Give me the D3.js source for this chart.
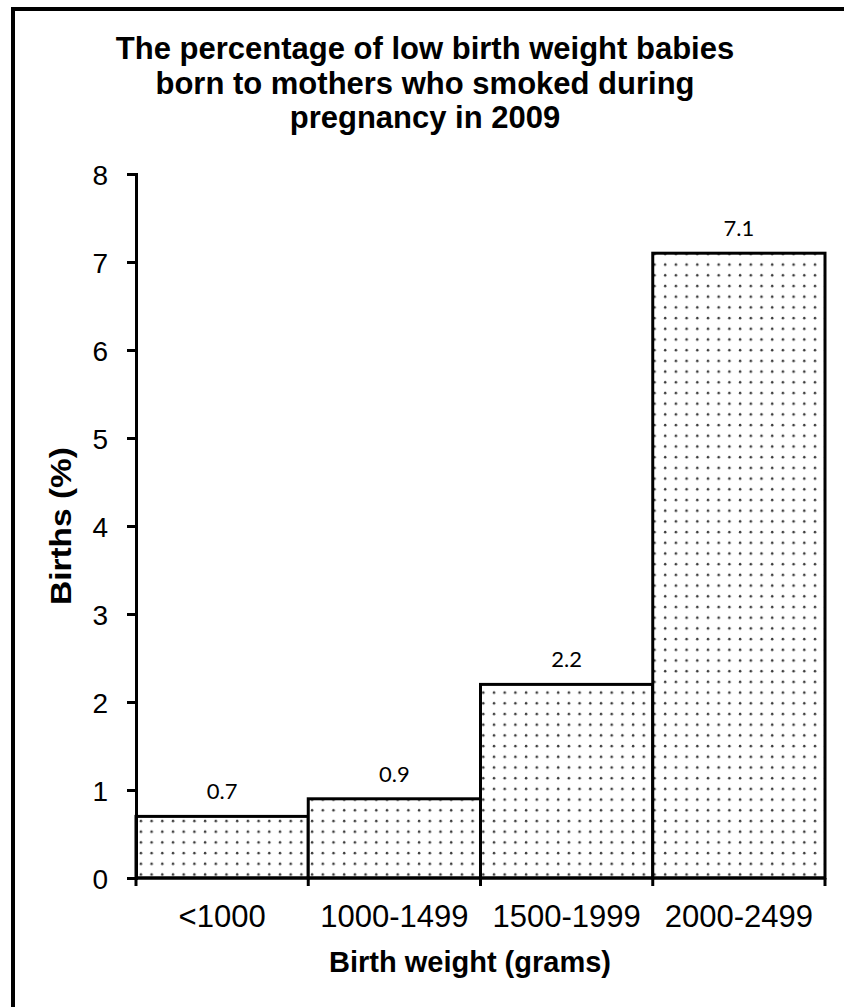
<!DOCTYPE html>
<html lang="en">
<head>
<meta charset="UTF-8">
<script src="https://d3js.org/d3.v7.min.js"></script>
<style>
  body { margin: 0; background: #fff; }
  svg text { font-family: "Liberation Sans", Arial, sans-serif; fill: #000; }
  .title { font-size: 31px; font-weight: bold; }
  .tick text { font-size: 28px; }
  .xlab { font-size: 31px; }
  .axisTitle { font-size: 29px; font-weight: bold; }
  .val { font-family: Lato, "Open Sans", sans-serif; font-size: 22px; }
</style>
</head>
<body>
<div id="chart"></div>
<script>
  // data
  let categories = ["<1000", "1000-1499", "1500-1999", "2000-2499"];
  let births = [0.7, 0.9, 2.2, 7.1];
  let yTicks = [0, 1, 2, 3, 4, 5, 6, 7, 8];
  let titleLines = ["The percentage of low birth weight babies",
                    "born to mothers who smoked during",
                    "pregnancy in 2009"];

  let width = 844, height = 1007;
  let margin = {top: 174, right: 19, bottom: 129, left: 136};
  let chartWidth = width - margin.left - margin.right,
      chartHeight = height - margin.top - margin.bottom;

  let svg = d3.select("#chart").append("svg")
      .attr("width", width).attr("height", height);

  // dotted fill
  let pat = svg.append("defs").append("pattern")
      .attr("id", "dots")
      .attr("patternUnits", "userSpaceOnUse")
      .attr("width", 10.7).attr("height", 10.7)
      .attr("x", margin.left + 3).attr("y", 0);
  pat.append("rect").attr("width", 10.7).attr("height", 10.7).attr("fill", "#fff");
  pat.append("circle").attr("cx", 5).attr("cy", 5).attr("r", 1.25).attr("fill", "#3a3a3a");

  // outer frame (only left and top edges show)
  svg.append("rect")
      .attr("x", 13).attr("y", 9)
      .attr("width", 900).attr("height", 1100)
      .attr("fill", "none").attr("stroke", "#000").attr("stroke-width", 4);

  // title
  svg.append("g").selectAll("text")
      .data(titleLines)
      .join("text")
      .attr("class", "title")
      .attr("x", 425)
      .attr("y", (d, i) => 59 + i * 34.5)
      .attr("text-anchor", "middle")
      .text(d => d);

  let g = svg.append("g")
      .attr("transform", "translate(" + margin.left + "," + margin.top + ")");

  let x = d3.scaleBand().domain(categories).range([0, chartWidth]).padding(0);
  let y = d3.scaleLinear().domain([0, 8]).range([chartHeight, 0]);

  // bars
  g.selectAll(".bar")
      .data(births)
      .join("rect")
      .attr("class", "bar")
      .attr("x", (d, i) => x(categories[i]))
      .attr("y", d => y(d))
      .attr("width", x.bandwidth())
      .attr("height", d => chartHeight - y(d))
      .attr("fill", "url(#dots)")
      .attr("stroke", "#000")
      .attr("stroke-width", 3);

  // value labels
  g.selectAll(".val")
      .data(births)
      .join("text")
      .attr("class", "val")
      .attr("x", (d, i) => x(categories[i]) + x.bandwidth() / 2)
      .attr("y", d => y(d) - 17)
      .attr("text-anchor", "middle")
      .text(d => d.toFixed(1));

  // y axis
  let yAxis = g.append("g")
      .call(d3.axisLeft(y).tickValues(yTicks).tickSize(9).tickPadding(19));
  yAxis.select(".domain").attr("stroke-width", 3);
  yAxis.selectAll(".tick line").attr("stroke-width", 3);
  yAxis.selectAll(".tick text").attr("dy", "0.36em");

  // x axis: ticks at the band edges
  let edges = categories.map(c => x(c)).concat([chartWidth]);
  let xAxis = g.append("g").attr("transform", "translate(0," + chartHeight + ")");
  xAxis.append("line")
      .attr("x1", 0).attr("x2", chartWidth)
      .attr("stroke", "#000").attr("stroke-width", 3);
  xAxis.selectAll(".xt")
      .data(edges)
      .join("line")
      .attr("class", "xt")
      .attr("x1", d => d).attr("x2", d => d)
      .attr("y1", 0).attr("y2", 8)
      .attr("stroke", "#000").attr("stroke-width", 3);
  xAxis.selectAll(".xlab")
      .data(categories)
      .join("text")
      .attr("class", "xlab")
      .attr("x", d => x(d) + x.bandwidth() / 2)
      .attr("y", 49)
      .attr("text-anchor", "middle")
      .text(d => d);

  // axis titles
  svg.append("text")
      .attr("class", "axisTitle")
      .attr("x", 470).attr("y", 972)
      .attr("text-anchor", "middle")
      .text("Birth weight (grams)");

  svg.append("text")
      .attr("class", "axisTitle")
      .attr("transform", "translate(71," + (margin.top + chartHeight / 2) + ") rotate(-90)")
      .attr("text-anchor", "middle")
      .attr("textLength", 158)
      .attr("lengthAdjust", "spacingAndGlyphs")
      .text("Births (%)");
</script>
</body>
</html>
